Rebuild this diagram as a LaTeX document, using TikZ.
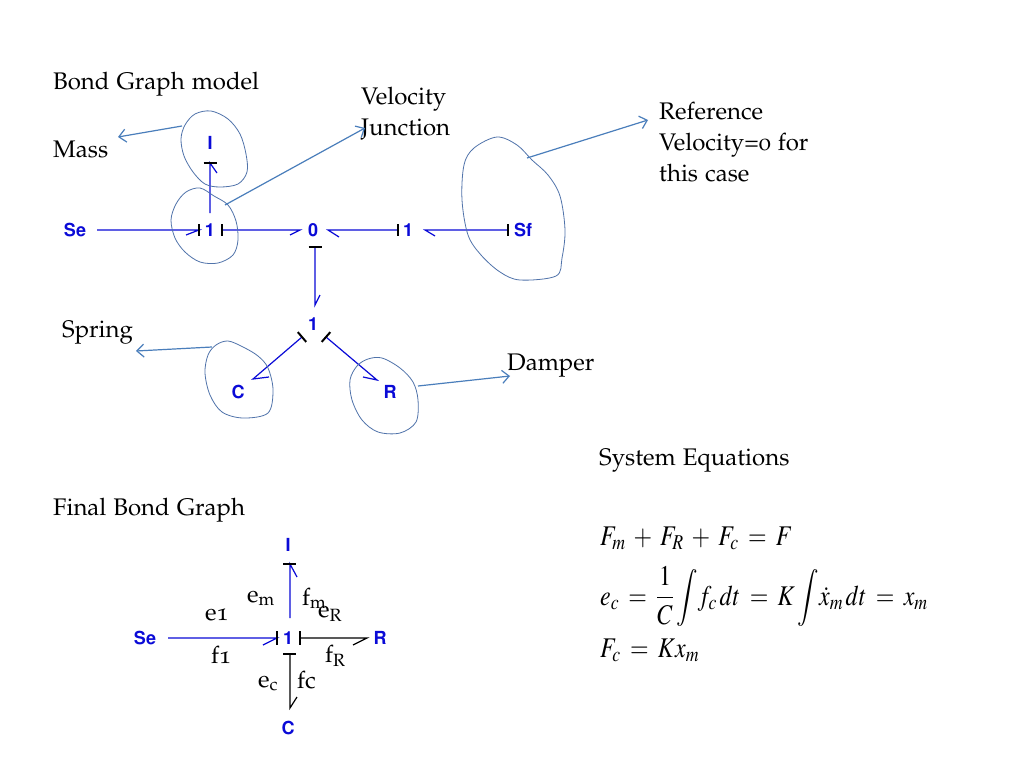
\documentclass[tikz,border=0pt]{standalone}
\usepackage[T1]{fontenc}
\usepackage{mathptmx}
\usepackage{helvet}
\usepackage{graphicx}
\renewcommand{\rmdefault}{pplj}
\usetikzlibrary{arrows.meta,calc}
\definecolor{bblue}{RGB}{10,10,215}
\definecolor{steel}{RGB}{74,126,187}
\definecolor{blobc}{RGB}{80,115,170}
\newcommand{\eqbox}[1]{\scalebox{0.84}[1]{$\medmuskip=6mu\thickmuskip=7mu #1$}}
\begin{document}
\begin{tikzpicture}[x=1pt,y=-1pt,
  txt/.style={anchor=base west,inner sep=0pt,font=\fontsize{24}{31}\selectfont\rmfamily},
  lab/.style={inner sep=0pt,text height=12.5pt,text depth=0pt,text=bblue,font=\fontsize{18}{20}\selectfont\sffamily\bfseries},
  eqn/.style={anchor=base west,inner sep=0pt,font=\fontsize{28.5}{34}\selectfont},
  bond/.style={draw=bblue,line width=1.2pt},
  kbond/.style={draw=black,line width=1.2pt},
  stroke/.style={draw=black,line width=2pt},
  blob/.style={draw=blobc,line width=0.8pt},
  note/.style={draw=steel,line width=1.2pt,-{Straight Barb[length=7pt,width=13pt,line width=1.2pt]}}]
\fill[white] (0,0) rectangle (1024,768);
\useasboundingbox (0,0) rectangle (1024,768);

% ---------- texts ----------
\node[txt] (tbg) at (53,89) {Bond Graph model};
\node[txt] (tmass) at (53,157) {Mass};
\node[txt,align=left,anchor=north west,text depth=0pt] (tvj) at (361,87) {Velocity\\Junction};
\node[txt,align=left,anchor=north west] (tref) at (659,102) {Reference\\Velocity=0 for\\this case};
\node[txt] (tspring) at (62,337) {Spring};
\node[txt] (tdamper) at (507,370) {Damper};
\node[txt] (tsys) at (599,465) {System Equations};
\node[txt] (tfinal) at (53,515) {Final Bond Graph};

% ---------- top bond graph ----------
\node[lab] (se) at (75,230) {Se};
\node[lab] (ja) at (210,230) {1};
\node[lab] (i) at (210,143) {I};
\node[lab] (z) at (313,230) {0};
\node[lab] (jb) at (408,230) {1};
\node[lab] (sf) at (523,230) {Sf};
\node[lab] (jc) at (313,324) {1};
\node[lab] (c) at (238,392) {C};
\node[lab] (r) at (390,392) {R};

% Se -> 1
\draw[bond] ($(se)+(22,0)$) coordinate (a1) -- ($(ja)+(-11,0)$) coordinate (a2) -- ++(-13,5);
\draw[stroke] ($(a2)+(0,-6)$) -- ($(a2)+(0,6)$);
% 1 -> 0
\draw[bond] ($(ja)+(12,0)$) coordinate (b1) -- ($(z)+(-13,0)$) coordinate (b2) -- ++(-10,5);
\draw[stroke] ($(b1)+(0,-6)$) -- ($(b1)+(0,6)$);
% 1 -> I
\draw[bond] ($(ja)+(0,-17)$) -- ($(i)+(0,20)$) coordinate (c2) -- ++(7,10);
\draw[stroke] ($(c2)+(-6.5,0)$) -- ($(c2)+(6.5,0)$);
% 1 -> 0 (right)
\draw[bond] ($(jb)+(-10,0)$) coordinate (d1) -- ($(z)+(15,0)$) coordinate (d2) -- ++(11,7);
\draw[stroke] ($(d1)+(0,-6)$) -- ($(d1)+(0,6)$);
% Sf -> 1
\draw[bond] ($(sf)+(-15,0)$) coordinate (e1) -- ($(jb)+(17,0)$) coordinate (e2) -- ++(10,6);
\draw[stroke] ($(e1)+(0,-6)$) -- ($(e1)+(0,6)$);
% 0 -> 1 (down)
\draw[bond] ($(z)+(2,17)$) coordinate (f1) -- ($(jc)+(2,-19)$) coordinate (f2) -- ++(5,-10);
\draw[stroke] ($(f1)+(-6.5,0)$) -- ($(f1)+(6.5,0)$);
% 1 -> C
\draw[bond] ($(jc)+(-11,13)$) coordinate (g1) -- ($(c)+(15,-13)$) coordinate (g2) -- ++(16,-2);
\draw[stroke] ($(g1)+(-4.2,-4.9)$) -- ($(g1)+(4.2,4.9)$);
% 1 -> R
\draw[bond] ($(jc)+(13,13)$) coordinate (h1) -- ($(r)+(-13,-12)$) coordinate (h2) -- ++(-14,-3);
\draw[stroke] ($(h1)+(4.3,-4.9)$) -- ($(h1)+(-4.3,4.9)$);

% ---------- blobs ----------
\draw[blob] plot[smooth cycle,tension=0.55] coordinates {(185,125) (195,114) (211,111) (228,119) (240,134) (246,154) (247,172) (238,184) (220,187) (205,184) (193,172) (184,156) (181,139)};
\draw[blob] plot[smooth cycle,tension=0.55] coordinates {(176,204) (186,192) (200,188) (214,196) (228,205) (236,221) (238,240) (233,255) (218,263) (200,262) (185,252) (175,238) (171,220)};
\draw[blob] plot[smooth cycle,tension=0.55] coordinates {(497,137) (517,145) (532,160) (548,175) (560,196) (565,230) (562,258) (556,276) (520,280) (500,272) (481,255) (468,235) (462,200) (464,165) (474,148)};
\draw[blob] plot[smooth cycle,tension=0.55] coordinates {(216,345) (228,341) (243,347) (258,356) (268,368) (273,390) (268,413) (243,418) (222,412) (210,395) (205,373) (208,355)};
\draw[blob] plot[smooth cycle,tension=0.55] coordinates {(357,366) (368,359) (382,358) (400,368) (413,382) (418,400) (416,422) (400,433) (378,432) (362,420) (352,400) (350,380)};

% ---------- annotation arrows ----------
\coordinate (pm) at (182,126);  \coordinate (qm) at (118,137);
\coordinate (pv) at (225,205);  \coordinate (qv) at (365,128);
\coordinate (pr) at (527,158);  \coordinate (qr) at (648,120);
\coordinate (ps) at (212,347);  \coordinate (qs) at (136,351);
\coordinate (pd) at (418,386);  \coordinate (qd) at (510,376);
\draw[note] (pm) -- (qm);
\draw[note] (pv) -- (qv);
\draw[note] (pr) -- (qr);
\draw[note] (ps) -- (qs);
\draw[note] (pd) -- (qd);

% ---------- final bond graph ----------
\node[lab] (fi) at (288,545) {I};
\node[lab] (fse) at (145,638) {Se};
\node[lab] (fj) at (288,638) {1};
\node[lab] (fr) at (380,638) {R};
\node[lab] (fcn) at (288,728) {C};

\draw[bond] ($(fse)+(23,0)$) -- ($(fj)+(-11,0)$) coordinate (k2) -- ++(-14,7);
\draw[stroke] ($(k2)+(0,-7)$) -- ($(k2)+(0,7)$);
\draw[bond] ($(fj)+(2,-20)$) -- ($(fi)+(2,19)$) coordinate (l2) -- ++(7,13);
\draw[stroke] ($(l2)+(-7,0)$) -- ($(l2)+(6,0)$);
\draw[kbond] ($(fj)+(12,0)$) coordinate (m1) -- ($(fr)+(-13,0)$) coordinate (m2) -- ++(-14,7);
\draw[stroke] ($(m1)+(0,-7)$) -- ($(m1)+(0,7)$);
\draw[kbond] ($(fj)+(2,16)$) coordinate (n1) -- ($(fcn)+(2,-20)$) coordinate (n2) -- ++(7,-11);
\draw[stroke] ($(n1)+(-7,0)$) -- ($(n1)+(6,0)$);

\node[txt] (le1) at (205,620) {e1};
\node[txt] (lf1) at (211,663) {f1};
\node[txt] (lem) at (247,602) {e\textsubscript{m}};
\node[txt] (lfm) at (302,605) {f\textsubscript{m}};
\node[txt] (leR) at (318,617) {e\textsubscript{R}};
\node[txt] (lfR) at (325,662) {f\textsubscript{R}};
\node[txt] (lec) at (258,687) {e\textsubscript{c}};
\node[txt] (lfc) at (297,688) {fc};

% ---------- equations ----------
\node[eqn] (eq1) at (600,545) {\eqbox{F_{m} + F_{R} + F_{c} = F}};
\node[eqn] (eq2) at (600,605) {\eqbox{e_{c} = {\displaystyle\frac{1}{C}}\,{\displaystyle\int} f_{c}\,dt = K\,{\displaystyle\int} \dot{x}_{m}\,dt = x_{m}}};
\node[eqn] (eq3) at (600,657) {\eqbox{F_{c} = Kx_{m}}};
\end{tikzpicture}
\end{document}
